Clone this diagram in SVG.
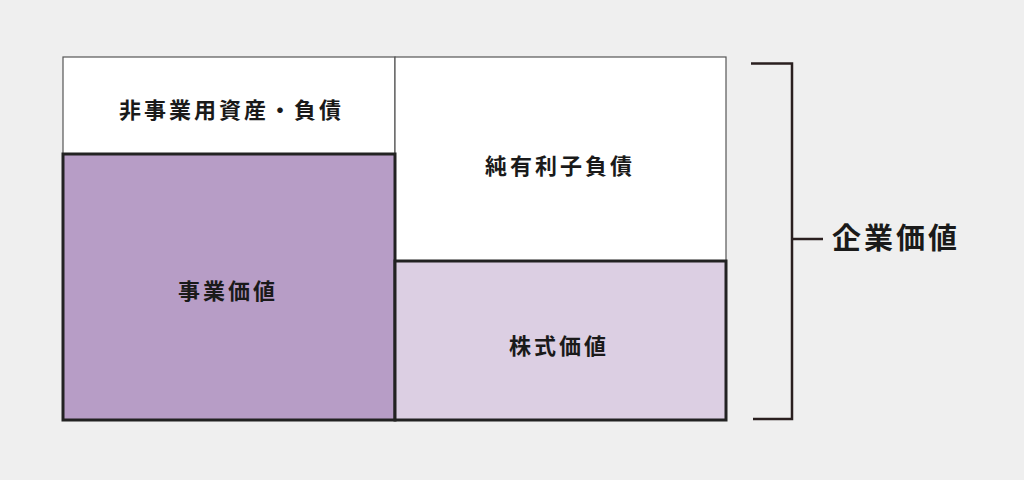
<svg xmlns="http://www.w3.org/2000/svg" width="1024" height="480" viewBox="0 0 1024 480">
<style>
.lbl{font-family:"Noto Sans CJK JP","Noto Sans CJK SC",sans-serif;font-weight:700;fill:#1a1a1a;font-size:22px;letter-spacing:3px;text-anchor:middle;dominant-baseline:central}
.big{font-family:"Noto Sans CJK JP","Noto Sans CJK SC",sans-serif;font-weight:700;fill:#1a1a1a;font-size:29px;letter-spacing:3px}
.thin{fill:#fff;stroke:#555;stroke-width:1.2}
.thick{stroke:#222;stroke-width:3}
</style>
<rect width="1024" height="480" fill="#efefef"/>
<g id="non-operating">
<rect class="thin" x="63" y="57" width="332" height="97"/>
<text class="lbl" x="231.5" y="108">非事業用資産・負債</text>
</g>
<g id="net-debt">
<rect class="thin" x="395" y="57" width="331" height="204"/>
<text class="lbl" x="560" y="164">純有利子負債</text>
</g>
<g id="business-value">
<rect class="thick" x="63" y="154" width="332" height="266" fill="#b79dc6"/>
<text class="lbl" x="228" y="289">事業価値</text>
</g>
<g id="equity-value">
<rect class="thick" x="395" y="261" width="331" height="159" fill="#dccfe3"/>
<text class="lbl" x="559" y="344">株式価値</text>
</g>
<g id="connectors" fill="none" stroke="#2a1f1f" stroke-width="2.5">
<path d="M751 63.5H792V419H753"/>
<path d="M792 239H823"/>
</g>
<g id="enterprise-value">
<text class="big" x="832" y="249">企業価値</text>
</g>
</svg>
